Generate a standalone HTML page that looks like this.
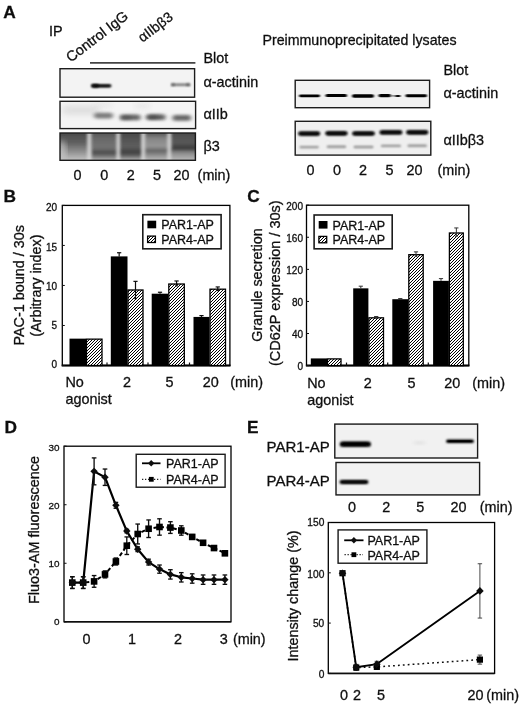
<!DOCTYPE html>
<html><head><meta charset="utf-8"><title>Figure</title>
<style>html,body{margin:0;padding:0;background:#fff;}svg{display:block;}text{font-family:'Liberation Sans', sans-serif;stroke:#111;stroke-width:0.3px;}</style>
</head><body>
<svg width="520" height="705" viewBox="0 0 520 705">
<defs>
<filter id="b1" x="-20%" y="-100%" width="140%" height="300%"><feGaussianBlur stdDeviation="1.2 0.9"/></filter>
<filter id="b0" x="-20%" y="-100%" width="140%" height="300%"><feGaussianBlur stdDeviation="1.0 0.75"/></filter>
<filter id="b2" x="-20%" y="-100%" width="140%" height="300%"><feGaussianBlur stdDeviation="2 1.4"/></filter>
<filter id="b3" x="-20%" y="-100%" width="140%" height="300%"><feGaussianBlur stdDeviation="3 2.5"/></filter>
<filter id="bs" x="-5%" y="-5%" width="110%" height="110%"><feGaussianBlur stdDeviation="0.3"/></filter>
<filter id="bt" x="-5%" y="-5%" width="110%" height="110%"><feGaussianBlur stdDeviation="0.55"/></filter>
</defs>
<rect width="520" height="705" fill="#fff"/>
<g filter="url(#bt)">
<text x="3.3" y="17.7" font-size="17.3" text-anchor="start" font-weight="bold" fill="#111">A</text>
<text x="49" y="35.6" font-size="14.4" text-anchor="start" font-weight="normal" fill="#111">IP</text>
<text x="70.8" y="62.8" font-size="14.4" text-anchor="start" font-weight="normal" fill="#111" transform="rotate(-37.5 70.8 62.8)">Control IgG</text>
<text x="142.5" y="42.8" font-size="14" text-anchor="start" font-weight="normal" fill="#111" transform="rotate(-37.5 142.5 42.8)">αIIbβ3</text>
<line x1="90" y1="62.9" x2="195.4" y2="62.9" stroke="#444" stroke-width="1.6"/>
<text x="203.5" y="62.7" font-size="14.4" text-anchor="start" font-weight="normal" fill="#111">Blot</text>
<clipPath id="ca1"><rect x="60" y="68.7" width="134.6" height="28.5"/></clipPath>
<rect x="60" y="68.7" width="134.6" height="28.5" fill="#f3f3f3" stroke="none" stroke-width="1"/>
<g clip-path="url(#ca1)">
<rect x="91" y="84.39999999999999" width="20.5" height="2.8" rx="1.4" fill="#000" opacity="1" filter="url(#b1)"/>
<rect x="91.5" y="84.0" width="7.5" height="3.6" rx="1.8" fill="#000" opacity="0.8" filter="url(#b1)"/>
<rect x="93" y="85.0" width="17" height="1.6" rx="0.8" fill="#000" opacity="1" filter="url(#b1)"/>
<rect x="171" y="83.5" width="19.5" height="2.4" rx="1.2" fill="#555" opacity="0.8" filter="url(#b1)"/>
<rect x="171" y="83.5" width="4" height="2.4" rx="1.2" fill="#444" opacity="0.6" filter="url(#b1)"/>
<rect x="186" y="83.5" width="4" height="2.4" rx="1.2" fill="#444" opacity="0.6" filter="url(#b1)"/>
</g>
<rect x="60" y="68.7" width="134.6" height="28.5" fill="none" stroke="#1a1a1a" stroke-width="1.4"/>
<clipPath id="ca2"><rect x="60" y="101.3" width="135.6" height="27.3"/></clipPath>
<rect x="60" y="101.3" width="135.6" height="27.3" fill="#f4f4f4" stroke="none" stroke-width="1"/>
<g clip-path="url(#ca2)">
<rect x="62" y="105.0" width="38" height="10" rx="5.0" fill="#ccc" opacity="0.5" filter="url(#b3)"/>
<rect x="94" y="112.8" width="19" height="5.6" rx="2.8" fill="#666" opacity="0.85" filter="url(#b2)"/>
<rect x="120" y="114.60000000000001" width="20.5" height="5.6" rx="2.8" fill="#555" opacity="0.9" filter="url(#b2)"/>
<rect x="121" y="115.89999999999999" width="10" height="3.4" rx="1.7" fill="#444" opacity="0.6" filter="url(#b2)"/>
<rect x="146.5" y="114.3" width="19.0" height="5.8" rx="2.9" fill="#505050" opacity="0.9" filter="url(#b2)"/>
<rect x="147" y="115.5" width="11" height="3.4" rx="1.7" fill="#3a3a3a" opacity="0.6" filter="url(#b2)"/>
<rect x="172.5" y="115.10000000000001" width="18.5" height="5.6" rx="2.8" fill="#555" opacity="0.9" filter="url(#b2)"/>
<rect x="95" y="103.0" width="17" height="4" rx="2.0" fill="#ddd" opacity="0.6" filter="url(#b3)"/>
<rect x="135" y="103.5" width="15" height="5" rx="2.5" fill="#ddd" opacity="0.6" filter="url(#b3)"/>
</g>
<rect x="60" y="101.3" width="135.6" height="27.3" fill="none" stroke="#1a1a1a" stroke-width="1.4"/>
<linearGradient id="g31" gradientUnits="userSpaceOnUse" x1="0" y1="133.5" x2="0" y2="160"><stop offset="0" stop-color="#4c4c4c"/><stop offset="0.35" stop-color="#606060"/><stop offset="0.65" stop-color="#8a8a8a"/><stop offset="1" stop-color="#c0c0c0"/></linearGradient>
<linearGradient id="g32" gradientUnits="userSpaceOnUse" x1="0" y1="133.5" x2="0" y2="160"><stop offset="0" stop-color="#585858"/><stop offset="0.2" stop-color="#6a6a6a"/><stop offset="0.55" stop-color="#727272"/><stop offset="0.72" stop-color="#484848"/><stop offset="0.84" stop-color="#6c6c6c"/><stop offset="1" stop-color="#b0b0b0"/></linearGradient>
<linearGradient id="g33" gradientUnits="userSpaceOnUse" x1="0" y1="133.5" x2="0" y2="160"><stop offset="0" stop-color="#4c4c4c"/><stop offset="0.5" stop-color="#5e5e5e"/><stop offset="0.72" stop-color="#3c3c3c"/><stop offset="0.84" stop-color="#606060"/><stop offset="1" stop-color="#b0b0b0"/></linearGradient>
<linearGradient id="g34" gradientUnits="userSpaceOnUse" x1="0" y1="133.5" x2="0" y2="160"><stop offset="0" stop-color="#5c5c5c"/><stop offset="0.2" stop-color="#888888"/><stop offset="0.5" stop-color="#969696"/><stop offset="0.64" stop-color="#606060"/><stop offset="0.8" stop-color="#8a8a8a"/><stop offset="1" stop-color="#b8b8b8"/></linearGradient>
<linearGradient id="g35" gradientUnits="userSpaceOnUse" x1="0" y1="133.5" x2="0" y2="160"><stop offset="0" stop-color="#4c4c4c"/><stop offset="0.35" stop-color="#5a5a5a"/><stop offset="0.56" stop-color="#363636"/><stop offset="0.72" stop-color="#888888"/><stop offset="1" stop-color="#b8b8b8"/></linearGradient>
<filter id="bh" x="-100%" y="-10%" width="300%" height="120%"><feGaussianBlur stdDeviation="1.5 0.6"/></filter>
<clipPath id="ca3"><rect x="60" y="133" width="135.4" height="27.3"/></clipPath>
<rect x="60" y="133" width="135.4" height="27.3" fill="#808080" stroke="none" stroke-width="1"/>
<g clip-path="url(#ca3)">
<g filter="url(#b2)">
<rect x="56" y="130" width="34" height="33" fill="url(#g31)" stroke="none" stroke-width="1"/>
<rect x="90" y="130" width="28" height="33" fill="url(#g32)" stroke="none" stroke-width="1"/>
<rect x="118" y="130" width="26" height="33" fill="url(#g33)" stroke="none" stroke-width="1"/>
<rect x="144" y="130" width="26" height="33" fill="url(#g34)" stroke="none" stroke-width="1"/>
<rect x="170" y="130" width="30" height="33" fill="url(#g35)" stroke="none" stroke-width="1"/>
</g>
<rect x="87.2" y="129" width="4.2" height="35" fill="#dcdcdc" opacity="0.9" filter="url(#bh)"/>
<rect x="116.30000000000001" y="129" width="3.8" height="35" fill="#dcdcdc" opacity="0.9" filter="url(#bh)"/>
<rect x="141.20000000000002" y="129" width="4.2" height="35" fill="#dcdcdc" opacity="0.9" filter="url(#bh)"/>
<rect x="167.29999999999998" y="129" width="3.8" height="35" fill="#dcdcdc" opacity="0.9" filter="url(#bh)"/>
<rect x="57" y="140.0" width="9" height="20" rx="10.0" fill="#ddd" opacity="0.6" filter="url(#b3)"/>
</g>
<rect x="60" y="133" width="135.4" height="27.3" fill="none" stroke="#1a1a1a" stroke-width="1.4"/>
<text x="203.5" y="87" font-size="14.4" text-anchor="start" font-weight="normal" fill="#111">α-actinin</text>
<text x="203.5" y="119" font-size="14.4" text-anchor="start" font-weight="normal" fill="#111">αIIb</text>
<text x="203.5" y="151.2" font-size="14.4" text-anchor="start" font-weight="normal" fill="#111">β3</text>
<text x="77.5" y="180.2" font-size="14.4" text-anchor="middle" font-weight="normal" fill="#111">0</text>
<text x="104.3" y="180.2" font-size="14.4" text-anchor="middle" font-weight="normal" fill="#111">0</text>
<text x="130.8" y="180.2" font-size="14.4" text-anchor="middle" font-weight="normal" fill="#111">2</text>
<text x="157" y="180.2" font-size="14.4" text-anchor="middle" font-weight="normal" fill="#111">5</text>
<text x="181.6" y="180.2" font-size="14.4" text-anchor="middle" font-weight="normal" fill="#111">20</text>
<text x="197.6" y="180.2" font-size="14.4" text-anchor="start" font-weight="normal" fill="#111">(min)</text>
<text x="262.5" y="45" font-size="14.2" text-anchor="start" font-weight="normal" fill="#111">Preimmunoprecipitated lysates</text>
<text x="443.5" y="74.6" font-size="14.4" text-anchor="start" font-weight="normal" fill="#111">Blot</text>
<clipPath id="cr1"><rect x="295.2" y="80.3" width="134.4" height="27.4"/></clipPath>
<rect x="295.2" y="80.3" width="134.4" height="27.4" fill="#f1f1f1" stroke="none" stroke-width="1"/>
<g clip-path="url(#cr1)">
<rect x="299" y="94.45" width="21" height="2.7" rx="1.35" fill="#000" opacity="1" filter="url(#b0)"/>
<rect x="325.5" y="93.95" width="21.5" height="3.1" rx="1.55" fill="#000" opacity="1" filter="url(#b0)"/>
<rect x="352" y="94.15" width="22" height="3.5" rx="1.75" fill="#000" opacity="1" filter="url(#b0)"/>
<rect x="378.5" y="94.05" width="12.5" height="3.1" rx="1.55" fill="#000" opacity="1" filter="url(#b0)"/>
<rect x="395" y="95.0" width="5.5" height="2.0" rx="1.0" fill="#000" opacity="1" filter="url(#b0)"/>
<rect x="405.5" y="94.25" width="21.5" height="2.9" rx="1.45" fill="#000" opacity="1" filter="url(#b0)"/>
<rect x="390" y="95.30000000000001" width="6" height="1.2" rx="0.6" fill="#555" opacity="0.8" filter="url(#b0)"/>
</g>
<rect x="295.2" y="80.3" width="134.4" height="27.4" fill="none" stroke="#1a1a1a" stroke-width="1.4"/>
<clipPath id="cr2"><rect x="295.2" y="121.3" width="135.6" height="33.8"/></clipPath>
<rect x="295.2" y="121.3" width="135.6" height="33.8" fill="#efefef" stroke="none" stroke-width="1"/>
<g clip-path="url(#cr2)">
<rect x="298" y="131.50000000000003" width="22.30000000000001" height="4.2" rx="2.1" fill="#0a0a0a" opacity="1" filter="url(#b1)"/>
<rect x="300" y="132.40000000000003" width="18.30000000000001" height="2.4" rx="1.2" fill="#000" opacity="1" filter="url(#b1)"/>
<rect x="299.5" y="145.90000000000003" width="19.30000000000001" height="2.4" rx="1.2" fill="#8a8a8a" opacity="0.9" filter="url(#b1)"/>
<rect x="325.2" y="131.20000000000002" width="22.5" height="4.2" rx="2.1" fill="#0a0a0a" opacity="1" filter="url(#b1)"/>
<rect x="327.2" y="132.10000000000002" width="18.5" height="2.4" rx="1.2" fill="#000" opacity="1" filter="url(#b1)"/>
<rect x="326.7" y="145.60000000000002" width="19.5" height="2.4" rx="1.2" fill="#8a8a8a" opacity="0.9" filter="url(#b1)"/>
<rect x="352" y="131.4" width="23" height="4.2" rx="2.1" fill="#0a0a0a" opacity="1" filter="url(#b1)"/>
<rect x="354" y="132.3" width="19" height="2.4" rx="1.2" fill="#000" opacity="1" filter="url(#b1)"/>
<rect x="353.5" y="145.8" width="20.0" height="2.4" rx="1.2" fill="#8a8a8a" opacity="0.9" filter="url(#b1)"/>
<rect x="379.4" y="130.3" width="23.100000000000023" height="4.2" rx="2.1" fill="#0a0a0a" opacity="1" filter="url(#b1)"/>
<rect x="381.4" y="131.20000000000002" width="19.100000000000023" height="2.4" rx="1.2" fill="#000" opacity="1" filter="url(#b1)"/>
<rect x="380.9" y="144.70000000000002" width="20.100000000000023" height="2.4" rx="1.2" fill="#8a8a8a" opacity="0.9" filter="url(#b1)"/>
<rect x="406" y="130.20000000000002" width="22.399999999999977" height="4.2" rx="2.1" fill="#0a0a0a" opacity="1" filter="url(#b1)"/>
<rect x="408" y="131.10000000000002" width="18.399999999999977" height="2.4" rx="1.2" fill="#000" opacity="1" filter="url(#b1)"/>
<rect x="407.5" y="144.60000000000002" width="19.399999999999977" height="2.4" rx="1.2" fill="#8a8a8a" opacity="0.9" filter="url(#b1)"/>
</g>
<rect x="295.2" y="121.3" width="135.6" height="33.8" fill="none" stroke="#1a1a1a" stroke-width="1.4"/>
<text x="443.5" y="97.9" font-size="14.4" text-anchor="start" font-weight="normal" fill="#111">α-actinin</text>
<text x="443.5" y="144.7" font-size="14.4" text-anchor="start" font-weight="normal" fill="#111">αIIbβ3</text>
<text x="310.5" y="175" font-size="14.4" text-anchor="middle" font-weight="normal" fill="#111">0</text>
<text x="337" y="175" font-size="14.4" text-anchor="middle" font-weight="normal" fill="#111">0</text>
<text x="363" y="175" font-size="14.4" text-anchor="middle" font-weight="normal" fill="#111">2</text>
<text x="389.5" y="175" font-size="14.4" text-anchor="middle" font-weight="normal" fill="#111">5</text>
<text x="414.5" y="175" font-size="14.4" text-anchor="middle" font-weight="normal" fill="#111">20</text>
<text x="437.5" y="175" font-size="14.4" text-anchor="start" font-weight="normal" fill="#111">(min)</text>
<text x="3.5" y="202.4" font-size="17.3" text-anchor="start" font-weight="bold" fill="#111">B</text>
<rect x="69.5" y="338.64625" width="16.5" height="26.85374999999999" fill="#000" stroke="none" stroke-width="1"/>
<rect x="110.8" y="256.39155" width="16.700000000000003" height="109.10845" fill="#000" stroke="none" stroke-width="1"/>
<line x1="119.15" y1="256.39155" x2="119.15" y2="252.73225" stroke="#111" stroke-width="1.2"/>
<line x1="117.05000000000001" y1="252.73225" x2="121.25" y2="252.73225" stroke="#111" stroke-width="1.2"/>
<rect x="151.7" y="293.7005" width="16.600000000000023" height="71.79950000000002" fill="#000" stroke="none" stroke-width="1"/>
<line x1="160.0" y1="293.7005" x2="160.0" y2="292.2686" stroke="#111" stroke-width="1.2"/>
<line x1="157.9" y1="292.2686" x2="162.1" y2="292.2686" stroke="#111" stroke-width="1.2"/>
<rect x="193.5" y="316.9291" width="16.0" height="48.570899999999995" fill="#000" stroke="none" stroke-width="1"/>
<line x1="201.5" y1="316.9291" x2="201.5" y2="315.57675" stroke="#111" stroke-width="1.2"/>
<line x1="199.4" y1="315.57675" x2="203.6" y2="315.57675" stroke="#111" stroke-width="1.2"/>
<rect x="62.3" y="205.4" width="167.60000000000002" height="160.1" fill="none" stroke="#000" stroke-width="1.3"/>
<line x1="61.699999999999996" y1="365.5" x2="230.5" y2="365.5" stroke="#000" stroke-width="2.0"/>
<line x1="62.3" y1="365.5" x2="64.8" y2="365.5" stroke="#111" stroke-width="1"/>
<text x="57.099999999999994" y="368.3" font-size="10" text-anchor="end" font-weight="normal" fill="#111">0</text>
<line x1="62.3" y1="325.475" x2="64.8" y2="325.475" stroke="#111" stroke-width="1"/>
<text x="57.099999999999994" y="329.05" font-size="10" text-anchor="end" font-weight="normal" fill="#111">5</text>
<line x1="62.3" y1="285.45" x2="64.8" y2="285.45" stroke="#111" stroke-width="1"/>
<text x="57.099999999999994" y="289.8" font-size="10" text-anchor="end" font-weight="normal" fill="#111">10</text>
<line x1="62.3" y1="245.425" x2="64.8" y2="245.425" stroke="#111" stroke-width="1"/>
<text x="57.099999999999994" y="250.54999999999998" font-size="10" text-anchor="end" font-weight="normal" fill="#111">15</text>
<line x1="62.3" y1="205.4" x2="64.8" y2="205.4" stroke="#111" stroke-width="1"/>
<text x="57.099999999999994" y="211.29999999999998" font-size="10" text-anchor="end" font-weight="normal" fill="#111">20</text>
<line x1="107" y1="365.5" x2="107" y2="362.5" stroke="#111" stroke-width="1.2"/>
<line x1="148" y1="365.5" x2="148" y2="362.5" stroke="#111" stroke-width="1.2"/>
<line x1="189.5" y1="365.5" x2="189.5" y2="362.5" stroke="#111" stroke-width="1.2"/>
<rect x="142.8" y="214.7" width="78.3" height="34.1" fill="#fff" stroke="#1a1a1a" stroke-width="1.6"/>
<rect x="147.4" y="220.7" width="8.8" height="7.6" fill="#000" stroke="none" stroke-width="1"/>
<text x="161.3" y="229.2" font-size="12.5" text-anchor="start" font-weight="normal" fill="#111">PAR1-AP</text>
<text x="161.3" y="244.0" font-size="12.5" text-anchor="start" font-weight="normal" fill="#111">PAR4-AP</text>
<text x="23.8" y="285.3" font-size="14.4" text-anchor="middle" font-weight="normal" fill="#111" transform="rotate(-90 23.8 285.3)">PAC-1 bound / 30s</text>
<text x="40.8" y="285.6" font-size="14.4" text-anchor="middle" font-weight="normal" fill="#111" transform="rotate(-90 40.8 285.6)">(Arbitrary index)</text>
<text x="65.4" y="387" font-size="14.4" text-anchor="start" font-weight="normal" fill="#111">No</text>
<text x="65.4" y="404" font-size="14.4" text-anchor="start" font-weight="normal" fill="#111">agonist</text>
<text x="127" y="387" font-size="14.4" text-anchor="middle" font-weight="normal" fill="#111">2</text>
<text x="169.5" y="387" font-size="14.4" text-anchor="middle" font-weight="normal" fill="#111">5</text>
<text x="210.8" y="387" font-size="14.4" text-anchor="middle" font-weight="normal" fill="#111">20</text>
<text x="230.2" y="387" font-size="14.4" text-anchor="start" font-weight="normal" fill="#111">(min)</text>
<text x="247.2" y="202.2" font-size="17.3" text-anchor="start" font-weight="bold" fill="#111">C</text>
<rect x="310.8" y="358.416" width="16.19999999999999" height="7.184000000000026" fill="#000" stroke="none" stroke-width="1"/>
<rect x="353.2" y="288.3516" width="15.199999999999989" height="77.2484" fill="#000" stroke="none" stroke-width="1"/>
<line x1="360.79999999999995" y1="288.3516" x2="360.79999999999995" y2="286.197" stroke="#333" stroke-width="1.0"/>
<line x1="358.69999999999993" y1="286.197" x2="362.9" y2="286.197" stroke="#333" stroke-width="1.0"/>
<rect x="392.3" y="299.20439999999996" width="16.0" height="66.39560000000006" fill="#000" stroke="none" stroke-width="1"/>
<line x1="400.3" y1="299.20439999999996" x2="400.3" y2="298.56600000000003" stroke="#333" stroke-width="1.0"/>
<line x1="398.2" y1="298.56600000000003" x2="402.40000000000003" y2="298.56600000000003" stroke="#333" stroke-width="1.0"/>
<rect x="433.1" y="280.8504" width="15.799999999999955" height="84.74960000000004" fill="#000" stroke="none" stroke-width="1"/>
<line x1="441.0" y1="280.8504" x2="441.0" y2="278.616" stroke="#333" stroke-width="1.0"/>
<line x1="438.9" y1="278.616" x2="443.1" y2="278.616" stroke="#333" stroke-width="1.0"/>
<rect x="306.5" y="205.2" width="162.3" height="160.40000000000003" fill="none" stroke="#000" stroke-width="1.3"/>
<line x1="305.9" y1="365.6" x2="469.40000000000003" y2="365.6" stroke="#000" stroke-width="2.0"/>
<line x1="306.5" y1="365.6" x2="309.0" y2="365.6" stroke="#111" stroke-width="1"/>
<text x="303.0" y="369.90000000000003" font-size="10" text-anchor="end" font-weight="normal" fill="#111">0</text>
<line x1="306.5" y1="333.52" x2="309.0" y2="333.52" stroke="#111" stroke-width="1"/>
<text x="303.0" y="337.90000000000003" font-size="10" text-anchor="end" font-weight="normal" fill="#111">40</text>
<line x1="306.5" y1="301.44" x2="309.0" y2="301.44" stroke="#111" stroke-width="1"/>
<text x="303.0" y="305.90000000000003" font-size="10" text-anchor="end" font-weight="normal" fill="#111">80</text>
<line x1="306.5" y1="269.36" x2="309.0" y2="269.36" stroke="#111" stroke-width="1"/>
<text x="303.0" y="273.90000000000003" font-size="10" text-anchor="end" font-weight="normal" fill="#111">120</text>
<line x1="306.5" y1="237.27999999999997" x2="309.0" y2="237.27999999999997" stroke="#111" stroke-width="1"/>
<text x="303.0" y="241.9" font-size="10" text-anchor="end" font-weight="normal" fill="#111">160</text>
<line x1="306.5" y1="205.2" x2="309.0" y2="205.2" stroke="#111" stroke-width="1"/>
<text x="303.0" y="209.9" font-size="10" text-anchor="end" font-weight="normal" fill="#111">200</text>
<line x1="346.5" y1="365.6" x2="346.5" y2="362.6" stroke="#111" stroke-width="1.2"/>
<line x1="387.7" y1="365.6" x2="387.7" y2="362.6" stroke="#111" stroke-width="1.2"/>
<line x1="428.3" y1="365.6" x2="428.3" y2="362.6" stroke="#111" stroke-width="1.2"/>
<rect x="314.1" y="215.0" width="78.1" height="33.8" fill="#fff" stroke="#1a1a1a" stroke-width="1.6"/>
<rect x="318.70000000000005" y="221.0" width="8.8" height="7.6" fill="#000" stroke="none" stroke-width="1"/>
<text x="332.6" y="229.5" font-size="12.5" text-anchor="start" font-weight="normal" fill="#111">PAR1-AP</text>
<text x="332.6" y="244.3" font-size="12.5" text-anchor="start" font-weight="normal" fill="#111">PAR4-AP</text>
<text x="262.2" y="285" font-size="14.4" text-anchor="middle" font-weight="normal" fill="#111" transform="rotate(-90 262.2 285)">Granule secretion</text>
<text x="279.7" y="283.2" font-size="14.5" text-anchor="middle" font-weight="normal" fill="#111" transform="rotate(-90 279.7 283.2)">(CD62P expression / 30s)</text>
<text x="307.2" y="388" font-size="14.4" text-anchor="start" font-weight="normal" fill="#111">No</text>
<text x="307.2" y="405" font-size="14.4" text-anchor="start" font-weight="normal" fill="#111">agonist</text>
<text x="367.7" y="388" font-size="14.4" text-anchor="middle" font-weight="normal" fill="#111">2</text>
<text x="411.4" y="388" font-size="14.4" text-anchor="middle" font-weight="normal" fill="#111">5</text>
<text x="452.3" y="388" font-size="14.4" text-anchor="middle" font-weight="normal" fill="#111">20</text>
<text x="472.3" y="388" font-size="14.4" text-anchor="start" font-weight="normal" fill="#111">(min)</text>
<text x="4.4" y="433.0" font-size="17.3" text-anchor="start" font-weight="bold" fill="#111">D</text>
<rect x="64" y="446.2" width="167" height="175.59999999999997" fill="none" stroke="#000" stroke-width="1.3"/>
<line x1="64" y1="621.8" x2="231" y2="621.8" stroke="#111" stroke-width="1.5"/>
<line x1="64" y1="621.8" x2="66.5" y2="621.8" stroke="#111" stroke-width="1"/>
<text x="59.4" y="625.4" font-size="9.9" text-anchor="end" font-weight="normal" fill="#111">0</text>
<line x1="64" y1="563.2666666666667" x2="66.5" y2="563.2666666666667" stroke="#111" stroke-width="1"/>
<text x="59.4" y="567.1999999999999" font-size="9.9" text-anchor="end" font-weight="normal" fill="#111">10</text>
<line x1="64" y1="504.7333333333333" x2="66.5" y2="504.7333333333333" stroke="#111" stroke-width="1"/>
<text x="59.4" y="509.0" font-size="9.9" text-anchor="end" font-weight="normal" fill="#111">20</text>
<line x1="64" y1="446.2" x2="66.5" y2="446.2" stroke="#111" stroke-width="1"/>
<text x="59.4" y="450.79999999999995" font-size="9.9" text-anchor="end" font-weight="normal" fill="#111">30</text>
<polyline points="72.3,582.6 83.2,582.6 94.1,581.4 105.0,574.4 115.9,561.5 126.8,545.7 137.7,534.0 148.6,528.7 159.5,527.0 170.4,527.6 181.3,530.5 192.2,536.9 203.1,542.8 214.0,548.0 224.9,553.3" fill="none" stroke="#000" stroke-width="2" stroke-dasharray="4 2.5"/>
<line x1="72.3" y1="576.7293333333333" x2="72.3" y2="588.4359999999999" stroke="#111" stroke-width="1.35"/>
<line x1="70.0" y1="576.7293333333333" x2="74.6" y2="576.7293333333333" stroke="#111" stroke-width="1.35"/>
<line x1="70.0" y1="588.4359999999999" x2="74.6" y2="588.4359999999999" stroke="#111" stroke-width="1.35"/>
<rect x="69.0" y="579.2826666666667" width="6.6" height="6.6" fill="#000" stroke="none" stroke-width="1"/>
<line x1="83.2" y1="576.7293333333333" x2="83.2" y2="588.4359999999999" stroke="#111" stroke-width="1.35"/>
<line x1="80.9" y1="576.7293333333333" x2="85.5" y2="576.7293333333333" stroke="#111" stroke-width="1.35"/>
<line x1="80.9" y1="588.4359999999999" x2="85.5" y2="588.4359999999999" stroke="#111" stroke-width="1.35"/>
<rect x="79.9" y="579.2826666666667" width="6.6" height="6.6" fill="#000" stroke="none" stroke-width="1"/>
<line x1="94.1" y1="575.5586666666666" x2="94.1" y2="587.2653333333333" stroke="#111" stroke-width="1.35"/>
<line x1="91.8" y1="575.5586666666666" x2="96.39999999999999" y2="575.5586666666666" stroke="#111" stroke-width="1.35"/>
<line x1="91.8" y1="587.2653333333333" x2="96.39999999999999" y2="587.2653333333333" stroke="#111" stroke-width="1.35"/>
<rect x="90.8" y="578.112" width="6.6" height="6.6" fill="#000" stroke="none" stroke-width="1"/>
<line x1="105.0" y1="570.876" x2="105.0" y2="577.9" stroke="#111" stroke-width="1.35"/>
<line x1="102.7" y1="570.876" x2="107.3" y2="570.876" stroke="#111" stroke-width="1.35"/>
<line x1="102.7" y1="577.9" x2="107.3" y2="577.9" stroke="#111" stroke-width="1.35"/>
<rect x="101.7" y="571.088" width="6.6" height="6.6" fill="#000" stroke="none" stroke-width="1"/>
<line x1="115.9" y1="557.9986666666666" x2="115.9" y2="565.0226666666666" stroke="#111" stroke-width="1.35"/>
<line x1="113.60000000000001" y1="557.9986666666666" x2="118.2" y2="557.9986666666666" stroke="#111" stroke-width="1.35"/>
<line x1="113.60000000000001" y1="565.0226666666666" x2="118.2" y2="565.0226666666666" stroke="#111" stroke-width="1.35"/>
<rect x="112.60000000000001" y="558.2106666666666" width="6.6" height="6.6" fill="#000" stroke="none" stroke-width="1"/>
<line x1="126.8" y1="536.9266666666666" x2="126.8" y2="554.4866666666667" stroke="#111" stroke-width="1.35"/>
<line x1="124.5" y1="536.9266666666666" x2="129.1" y2="536.9266666666666" stroke="#111" stroke-width="1.35"/>
<line x1="124.5" y1="554.4866666666667" x2="129.1" y2="554.4866666666667" stroke="#111" stroke-width="1.35"/>
<rect x="123.5" y="542.4066666666666" width="6.6" height="6.6" fill="#000" stroke="none" stroke-width="1"/>
<line x1="137.7" y1="524.0493333333333" x2="137.7" y2="543.9506666666666" stroke="#111" stroke-width="1.35"/>
<line x1="135.39999999999998" y1="524.0493333333333" x2="140.0" y2="524.0493333333333" stroke="#111" stroke-width="1.35"/>
<line x1="135.39999999999998" y1="543.9506666666666" x2="140.0" y2="543.9506666666666" stroke="#111" stroke-width="1.35"/>
<rect x="134.39999999999998" y="530.7" width="6.6" height="6.6" fill="#000" stroke="none" stroke-width="1"/>
<line x1="148.6" y1="519.952" x2="148.6" y2="537.512" stroke="#111" stroke-width="1.35"/>
<line x1="146.29999999999998" y1="519.952" x2="150.9" y2="519.952" stroke="#111" stroke-width="1.35"/>
<line x1="146.29999999999998" y1="537.512" x2="150.9" y2="537.512" stroke="#111" stroke-width="1.35"/>
<rect x="145.29999999999998" y="525.432" width="6.6" height="6.6" fill="#000" stroke="none" stroke-width="1"/>
<line x1="159.5" y1="518.7813333333334" x2="159.5" y2="535.1706666666666" stroke="#111" stroke-width="1.35"/>
<line x1="157.2" y1="518.7813333333334" x2="161.8" y2="518.7813333333334" stroke="#111" stroke-width="1.35"/>
<line x1="157.2" y1="535.1706666666666" x2="161.8" y2="535.1706666666666" stroke="#111" stroke-width="1.35"/>
<rect x="156.2" y="523.676" width="6.6" height="6.6" fill="#000" stroke="none" stroke-width="1"/>
<line x1="170.4" y1="521.708" x2="170.4" y2="533.4146666666666" stroke="#111" stroke-width="1.35"/>
<line x1="168.1" y1="521.708" x2="172.70000000000002" y2="521.708" stroke="#111" stroke-width="1.35"/>
<line x1="168.1" y1="533.4146666666666" x2="172.70000000000002" y2="533.4146666666666" stroke="#111" stroke-width="1.35"/>
<rect x="167.1" y="524.2613333333334" width="6.6" height="6.6" fill="#000" stroke="none" stroke-width="1"/>
<line x1="181.3" y1="525.8053333333334" x2="181.3" y2="535.1706666666666" stroke="#111" stroke-width="1.35"/>
<line x1="179.0" y1="525.8053333333334" x2="183.60000000000002" y2="525.8053333333334" stroke="#111" stroke-width="1.35"/>
<line x1="179.0" y1="535.1706666666666" x2="183.60000000000002" y2="535.1706666666666" stroke="#111" stroke-width="1.35"/>
<rect x="178.0" y="527.188" width="6.6" height="6.6" fill="#000" stroke="none" stroke-width="1"/>
<line x1="192.2" y1="534.5853333333333" x2="192.2" y2="539.268" stroke="#111" stroke-width="1.35"/>
<line x1="189.89999999999998" y1="534.5853333333333" x2="194.5" y2="534.5853333333333" stroke="#111" stroke-width="1.35"/>
<line x1="189.89999999999998" y1="539.268" x2="194.5" y2="539.268" stroke="#111" stroke-width="1.35"/>
<rect x="188.89999999999998" y="533.6266666666667" width="6.6" height="6.6" fill="#000" stroke="none" stroke-width="1"/>
<line x1="203.10000000000002" y1="541.024" x2="203.10000000000002" y2="544.536" stroke="#111" stroke-width="1.35"/>
<line x1="200.8" y1="541.024" x2="205.40000000000003" y2="541.024" stroke="#111" stroke-width="1.35"/>
<line x1="200.8" y1="544.536" x2="205.40000000000003" y2="544.536" stroke="#111" stroke-width="1.35"/>
<rect x="199.8" y="539.48" width="6.6" height="6.6" fill="#000" stroke="none" stroke-width="1"/>
<line x1="214.0" y1="546.2919999999999" x2="214.0" y2="549.804" stroke="#111" stroke-width="1.35"/>
<line x1="211.7" y1="546.2919999999999" x2="216.3" y2="546.2919999999999" stroke="#111" stroke-width="1.35"/>
<line x1="211.7" y1="549.804" x2="216.3" y2="549.804" stroke="#111" stroke-width="1.35"/>
<rect x="210.7" y="544.748" width="6.6" height="6.6" fill="#000" stroke="none" stroke-width="1"/>
<line x1="224.89999999999998" y1="551.56" x2="224.89999999999998" y2="555.072" stroke="#111" stroke-width="1.35"/>
<line x1="222.59999999999997" y1="551.56" x2="227.2" y2="551.56" stroke="#111" stroke-width="1.35"/>
<line x1="222.59999999999997" y1="555.072" x2="227.2" y2="555.072" stroke="#111" stroke-width="1.35"/>
<rect x="221.59999999999997" y="550.0160000000001" width="6.6" height="6.6" fill="#000" stroke="none" stroke-width="1"/>
<polyline points="72.3,582.6 83.2,582.6 94.1,471.4 105.0,477.2 115.9,505.3 126.8,531.1 137.7,549.2 148.6,562.1 159.5,569.1 170.4,574.4 181.3,577.3 192.2,578.5 203.1,579.7 214.0,579.7 224.9,579.7" fill="none" stroke="#000" stroke-width="2.2" stroke-linejoin="round"/>
<line x1="72.3" y1="576.7293333333333" x2="72.3" y2="588.4359999999999" stroke="#111" stroke-width="1.35"/>
<line x1="70.0" y1="576.7293333333333" x2="74.6" y2="576.7293333333333" stroke="#111" stroke-width="1.35"/>
<line x1="70.0" y1="588.4359999999999" x2="74.6" y2="588.4359999999999" stroke="#111" stroke-width="1.35"/>
<polygon points="68.6,582.5826666666667 72.3,578.8826666666666 76.0,582.5826666666667 72.3,586.2826666666667" fill="#111"/>
<line x1="83.2" y1="576.7293333333333" x2="83.2" y2="588.4359999999999" stroke="#111" stroke-width="1.35"/>
<line x1="80.9" y1="576.7293333333333" x2="85.5" y2="576.7293333333333" stroke="#111" stroke-width="1.35"/>
<line x1="80.9" y1="588.4359999999999" x2="85.5" y2="588.4359999999999" stroke="#111" stroke-width="1.35"/>
<polygon points="79.5,582.5826666666667 83.2,578.8826666666666 86.9,582.5826666666667 83.2,586.2826666666667" fill="#111"/>
<line x1="94.1" y1="457.90666666666664" x2="94.1" y2="484.832" stroke="#111" stroke-width="1.35"/>
<line x1="91.8" y1="457.90666666666664" x2="96.39999999999999" y2="457.90666666666664" stroke="#111" stroke-width="1.35"/>
<line x1="91.8" y1="484.832" x2="96.39999999999999" y2="484.832" stroke="#111" stroke-width="1.35"/>
<polygon points="90.39999999999999,471.3693333333333 94.1,467.6693333333333 97.8,471.3693333333333 94.1,475.0693333333333" fill="#111"/>
<line x1="105.0" y1="469.028" x2="105.0" y2="485.4173333333333" stroke="#111" stroke-width="1.35"/>
<line x1="102.7" y1="469.028" x2="107.3" y2="469.028" stroke="#111" stroke-width="1.35"/>
<line x1="102.7" y1="485.4173333333333" x2="107.3" y2="485.4173333333333" stroke="#111" stroke-width="1.35"/>
<polygon points="101.3,477.22266666666667 105.0,473.5226666666667 108.7,477.22266666666667 105.0,480.92266666666666" fill="#111"/>
<line x1="115.9" y1="502.392" x2="115.9" y2="508.2453333333333" stroke="#111" stroke-width="1.35"/>
<line x1="113.60000000000001" y1="502.392" x2="118.2" y2="502.392" stroke="#111" stroke-width="1.35"/>
<line x1="113.60000000000001" y1="508.2453333333333" x2="118.2" y2="508.2453333333333" stroke="#111" stroke-width="1.35"/>
<polygon points="112.2,505.3186666666667 115.9,501.6186666666667 119.60000000000001,505.3186666666667 115.9,509.01866666666666" fill="#111"/>
<line x1="126.8" y1="529.3173333333333" x2="126.8" y2="532.8293333333334" stroke="#111" stroke-width="1.35"/>
<line x1="124.5" y1="529.3173333333333" x2="129.1" y2="529.3173333333333" stroke="#111" stroke-width="1.35"/>
<line x1="124.5" y1="532.8293333333334" x2="129.1" y2="532.8293333333334" stroke="#111" stroke-width="1.35"/>
<polygon points="123.1,531.0733333333333 126.8,527.3733333333332 130.5,531.0733333333333 126.8,534.7733333333333" fill="#111"/>
<line x1="137.7" y1="546.8773333333334" x2="137.7" y2="551.56" stroke="#111" stroke-width="1.35"/>
<line x1="135.39999999999998" y1="546.8773333333334" x2="140.0" y2="546.8773333333334" stroke="#111" stroke-width="1.35"/>
<line x1="135.39999999999998" y1="551.56" x2="140.0" y2="551.56" stroke="#111" stroke-width="1.35"/>
<polygon points="134.0,549.2186666666666 137.7,545.5186666666666 141.39999999999998,549.2186666666666 137.7,552.9186666666667" fill="#111"/>
<line x1="148.6" y1="559.1693333333333" x2="148.6" y2="565.0226666666666" stroke="#111" stroke-width="1.35"/>
<line x1="146.29999999999998" y1="559.1693333333333" x2="150.9" y2="559.1693333333333" stroke="#111" stroke-width="1.35"/>
<line x1="146.29999999999998" y1="565.0226666666666" x2="150.9" y2="565.0226666666666" stroke="#111" stroke-width="1.35"/>
<polygon points="144.9,562.096 148.6,558.396 152.29999999999998,562.096 148.6,565.796" fill="#111"/>
<line x1="159.5" y1="565.0226666666666" x2="159.5" y2="573.2173333333333" stroke="#111" stroke-width="1.35"/>
<line x1="157.2" y1="565.0226666666666" x2="161.8" y2="565.0226666666666" stroke="#111" stroke-width="1.35"/>
<line x1="157.2" y1="573.2173333333333" x2="161.8" y2="573.2173333333333" stroke="#111" stroke-width="1.35"/>
<polygon points="155.8,569.12 159.5,565.42 163.2,569.12 159.5,572.82" fill="#111"/>
<line x1="170.4" y1="569.7053333333333" x2="170.4" y2="579.0706666666666" stroke="#111" stroke-width="1.35"/>
<line x1="168.1" y1="569.7053333333333" x2="172.70000000000002" y2="569.7053333333333" stroke="#111" stroke-width="1.35"/>
<line x1="168.1" y1="579.0706666666666" x2="172.70000000000002" y2="579.0706666666666" stroke="#111" stroke-width="1.35"/>
<polygon points="166.70000000000002,574.3879999999999 170.4,570.6879999999999 174.1,574.3879999999999 170.4,578.088" fill="#111"/>
<line x1="181.3" y1="572.632" x2="181.3" y2="581.9973333333332" stroke="#111" stroke-width="1.35"/>
<line x1="179.0" y1="572.632" x2="183.60000000000002" y2="572.632" stroke="#111" stroke-width="1.35"/>
<line x1="179.0" y1="581.9973333333332" x2="183.60000000000002" y2="581.9973333333332" stroke="#111" stroke-width="1.35"/>
<polygon points="177.60000000000002,577.3146666666667 181.3,573.6146666666666 185.0,577.3146666666667 181.3,581.0146666666667" fill="#111"/>
<line x1="192.2" y1="573.8026666666666" x2="192.2" y2="583.168" stroke="#111" stroke-width="1.35"/>
<line x1="189.89999999999998" y1="573.8026666666666" x2="194.5" y2="573.8026666666666" stroke="#111" stroke-width="1.35"/>
<line x1="189.89999999999998" y1="583.168" x2="194.5" y2="583.168" stroke="#111" stroke-width="1.35"/>
<polygon points="188.5,578.4853333333333 192.2,574.7853333333333 195.89999999999998,578.4853333333333 192.2,582.1853333333333" fill="#111"/>
<line x1="203.10000000000002" y1="574.9733333333332" x2="203.10000000000002" y2="584.3386666666667" stroke="#111" stroke-width="1.35"/>
<line x1="200.8" y1="574.9733333333332" x2="205.40000000000003" y2="574.9733333333332" stroke="#111" stroke-width="1.35"/>
<line x1="200.8" y1="584.3386666666667" x2="205.40000000000003" y2="584.3386666666667" stroke="#111" stroke-width="1.35"/>
<polygon points="199.40000000000003,579.656 203.10000000000002,575.9559999999999 206.8,579.656 203.10000000000002,583.356" fill="#111"/>
<line x1="214.0" y1="574.9733333333332" x2="214.0" y2="584.3386666666667" stroke="#111" stroke-width="1.35"/>
<line x1="211.7" y1="574.9733333333332" x2="216.3" y2="574.9733333333332" stroke="#111" stroke-width="1.35"/>
<line x1="211.7" y1="584.3386666666667" x2="216.3" y2="584.3386666666667" stroke="#111" stroke-width="1.35"/>
<polygon points="210.3,579.656 214.0,575.9559999999999 217.7,579.656 214.0,583.356" fill="#111"/>
<line x1="224.89999999999998" y1="574.9733333333332" x2="224.89999999999998" y2="584.3386666666667" stroke="#111" stroke-width="1.35"/>
<line x1="222.59999999999997" y1="574.9733333333332" x2="227.2" y2="574.9733333333332" stroke="#111" stroke-width="1.35"/>
<line x1="222.59999999999997" y1="584.3386666666667" x2="227.2" y2="584.3386666666667" stroke="#111" stroke-width="1.35"/>
<polygon points="221.2,579.656 224.89999999999998,575.9559999999999 228.59999999999997,579.656 224.89999999999998,583.356" fill="#111"/>
<rect x="136.2" y="454.3" width="88.9" height="32.9" fill="#fff" stroke="#1a1a1a" stroke-width="1.4"/>
<line x1="142" y1="463.3" x2="160.5" y2="463.3" stroke="#000" stroke-width="1.8"/>
<polygon points="148.0,463.3 151.2,460.1 154.39999999999998,463.3 151.2,466.5" fill="#111"/>
<text x="166" y="467.8" font-size="12.5" text-anchor="start" font-weight="normal" fill="#111">PAR1-AP</text>
<line x1="142" y1="479.3" x2="160.5" y2="479.3" stroke="#222" stroke-width="1.3" stroke-dasharray="1.3 1.7"/>
<rect x="148.9" y="476.9" width="4.8" height="4.8" fill="#000" stroke="none" stroke-width="1"/>
<text x="166" y="483.8" font-size="12.5" text-anchor="start" font-weight="normal" fill="#111">PAR4-AP</text>
<text x="38.7" y="530" font-size="14.4" text-anchor="middle" font-weight="normal" fill="#111" transform="rotate(-90 38.7 530)">Fluo3-AM fluorescence</text>
<text x="86.4" y="644" font-size="14.4" text-anchor="middle" font-weight="normal" fill="#111">0</text>
<text x="132" y="644" font-size="14.4" text-anchor="middle" font-weight="normal" fill="#111">1</text>
<text x="178" y="644" font-size="14.4" text-anchor="middle" font-weight="normal" fill="#111">2</text>
<text x="223.8" y="644" font-size="14.4" text-anchor="middle" font-weight="normal" fill="#111">3</text>
<text x="232.9" y="644" font-size="14.4" text-anchor="start" font-weight="normal" fill="#111">(min)</text>
<text x="247" y="432.9" font-size="17.3" text-anchor="start" font-weight="bold" fill="#111">E</text>
<clipPath id="ce1"><rect x="334.8" y="424.1" width="142.8" height="33.9"/></clipPath>
<rect x="334.8" y="424.1" width="142.8" height="33.9" fill="#f1f1f1" stroke="none" stroke-width="1"/>
<g clip-path="url(#ce1)">
<rect x="339.8" y="441.59999999999997" width="31.19999999999999" height="5.2" rx="2.6" fill="#000" opacity="1" filter="url(#b1)"/>
<rect x="342" y="442.7" width="26" height="3" rx="1.5" fill="#000" opacity="1" filter="url(#b1)"/>
<rect x="446" y="439.5" width="28" height="3.6" rx="1.8" fill="#000" opacity="1" filter="url(#b1)"/>
<rect x="448" y="440.3" width="24" height="2.0" rx="1.0" fill="#000" opacity="0.9" filter="url(#b0)"/>
<rect x="414" y="441.7" width="11" height="2" rx="1.0" fill="#ccc" opacity="0.6" filter="url(#b2)"/>
</g>
<rect x="334.8" y="424.1" width="142.8" height="33.9" fill="none" stroke="#1a1a1a" stroke-width="1.4"/>
<clipPath id="ce2"><rect x="336" y="462.5" width="143.6" height="32.4"/></clipPath>
<rect x="336" y="462.5" width="143.6" height="32.4" fill="#f2f2f2" stroke="none" stroke-width="1"/>
<g clip-path="url(#ce2)">
<rect x="339.5" y="480.1" width="29.0" height="3.8" rx="1.9" fill="#000" opacity="1" filter="url(#b1)"/>
<rect x="342" y="481.0" width="24" height="2" rx="1.0" fill="#000" opacity="1" filter="url(#b1)"/>
</g>
<rect x="336" y="462.5" width="143.6" height="32.4" fill="none" stroke="#1a1a1a" stroke-width="1.4"/>
<text x="266.6" y="451.8" font-size="15" text-anchor="start" font-weight="normal" fill="#111">PAR1-AP</text>
<text x="266.6" y="486.4" font-size="15" text-anchor="start" font-weight="normal" fill="#111">PAR4-AP</text>
<text x="352" y="512.1" font-size="14.4" text-anchor="middle" font-weight="normal" fill="#111">0</text>
<text x="386.2" y="512.1" font-size="14.4" text-anchor="middle" font-weight="normal" fill="#111">2</text>
<text x="420.2" y="512.1" font-size="14.4" text-anchor="middle" font-weight="normal" fill="#111">5</text>
<text x="458.4" y="512.1" font-size="14.4" text-anchor="middle" font-weight="normal" fill="#111">20</text>
<text x="479.8" y="512.1" font-size="14.4" text-anchor="start" font-weight="normal" fill="#111">(min)</text>
<rect x="328.3" y="522.5" width="166.3" height="150.89999999999998" fill="none" stroke="#000" stroke-width="1.3"/>
<line x1="328.3" y1="673.4" x2="494.6" y2="673.4" stroke="#111" stroke-width="1.5"/>
<line x1="328.3" y1="673.4" x2="330.8" y2="673.4" stroke="#111" stroke-width="1"/>
<text x="324.3" y="677.85" font-size="10.2" text-anchor="end" font-weight="normal" fill="#111">0</text>
<line x1="328.3" y1="623.1" x2="330.8" y2="623.1" stroke="#111" stroke-width="1"/>
<text x="324.3" y="626.8000000000001" font-size="10.2" text-anchor="end" font-weight="normal" fill="#111">50</text>
<line x1="328.3" y1="572.8" x2="330.8" y2="572.8" stroke="#111" stroke-width="1"/>
<text x="324.3" y="577.85" font-size="10.2" text-anchor="end" font-weight="normal" fill="#111">100</text>
<line x1="328.3" y1="522.5" x2="330.8" y2="522.5" stroke="#111" stroke-width="1"/>
<text x="324.3" y="526.1" font-size="10.2" text-anchor="end" font-weight="normal" fill="#111">150</text>
<polyline points="342.5,573.2 356.2,667.6 376.9,666.9 479.9,659.6" fill="none" stroke="#111" stroke-width="1.5" stroke-dasharray="1.8 3.1"/>
<polyline points="342.5,573.2 356.2,667.2 376.9,664.1 479.9,590.9" fill="none" stroke="#000" stroke-width="1.9" stroke-linejoin="round"/>
<line x1="479.9" y1="563.746" x2="479.9" y2="618.0699999999999" stroke="#333" stroke-width="0.9"/>
<line x1="477.7" y1="563.746" x2="482.09999999999997" y2="563.746" stroke="#333" stroke-width="0.9"/>
<line x1="477.7" y1="618.0699999999999" x2="482.09999999999997" y2="618.0699999999999" stroke="#333" stroke-width="0.9"/>
<line x1="479.9" y1="655.0908" x2="479.9" y2="664.1448" stroke="#333" stroke-width="0.9"/>
<line x1="477.7" y1="655.0908" x2="482.09999999999997" y2="655.0908" stroke="#333" stroke-width="0.9"/>
<line x1="477.7" y1="664.1448" x2="482.09999999999997" y2="664.1448" stroke="#333" stroke-width="0.9"/>
<line x1="376.85" y1="661.328" x2="376.85" y2="669.376" stroke="#333" stroke-width="0.9"/>
<line x1="374.65000000000003" y1="661.328" x2="379.05" y2="661.328" stroke="#333" stroke-width="0.9"/>
<line x1="374.65000000000003" y1="669.376" x2="379.05" y2="669.376" stroke="#333" stroke-width="0.9"/>
<line x1="356.24" y1="664.346" x2="356.24" y2="670.382" stroke="#333" stroke-width="0.9"/>
<line x1="354.04" y1="664.346" x2="358.44" y2="664.346" stroke="#333" stroke-width="0.9"/>
<line x1="354.04" y1="670.382" x2="358.44" y2="670.382" stroke="#333" stroke-width="0.9"/>
<rect x="339.4" y="570.1024" width="6.2" height="6.2" fill="#000" stroke="none" stroke-width="1"/>
<rect x="353.14" y="664.4652" width="6.2" height="6.2" fill="#000" stroke="none" stroke-width="1"/>
<rect x="373.75" y="663.761" width="6.2" height="6.2" fill="#000" stroke="none" stroke-width="1"/>
<rect x="476.79999999999995" y="656.5178" width="6.2" height="6.2" fill="#000" stroke="none" stroke-width="1"/>
<polygon points="338.7,573.2024 342.5,569.4024000000001 346.3,573.2024 342.5,577.0024" fill="#111"/>
<polygon points="352.44,667.1628 356.24,663.3628 360.04,667.1628 356.24,670.9627999999999" fill="#111"/>
<polygon points="373.05,664.1448 376.85,660.3448000000001 380.65000000000003,664.1448 376.85,667.9448" fill="#111"/>
<polygon points="476.09999999999997,590.908 479.9,587.1080000000001 483.7,590.908 479.9,594.708" fill="#111"/>
<rect x="338.1" y="529.9" width="88.8" height="33.3" fill="#fff" stroke="#1a1a1a" stroke-width="1.4"/>
<line x1="344.2" y1="540.3" x2="363.5" y2="540.3" stroke="#000" stroke-width="1.8"/>
<polygon points="350.7,540.3 353.9,537.0999999999999 357.09999999999997,540.3 353.9,543.5" fill="#111"/>
<text x="367.4" y="545" font-size="12.5" text-anchor="start" font-weight="normal" fill="#111">PAR1-AP</text>
<line x1="344.5" y1="554.7" x2="363" y2="554.7" stroke="#222" stroke-width="1.3" stroke-dasharray="1.3 1.7"/>
<rect x="351.5" y="552.3" width="4.8" height="4.8" fill="#000" stroke="none" stroke-width="1"/>
<text x="367.4" y="559.5" font-size="12.5" text-anchor="start" font-weight="normal" fill="#111">PAR4-AP</text>
<text x="298.3" y="596" font-size="14.4" text-anchor="middle" font-weight="normal" fill="#111" transform="rotate(-90 298.3 596)">Intensity change (%)</text>
<text x="343.9" y="699.9" font-size="14.4" text-anchor="middle" font-weight="normal" fill="#111">0</text>
<text x="356.9" y="699.9" font-size="14.4" text-anchor="middle" font-weight="normal" fill="#111">2</text>
<text x="381.0" y="699.9" font-size="14.4" text-anchor="middle" font-weight="normal" fill="#111">5</text>
<text x="475.4" y="699.9" font-size="14.4" text-anchor="middle" font-weight="normal" fill="#111">20</text>
<text x="486.2" y="699.9" font-size="14.4" text-anchor="start" font-weight="normal" fill="#111">(min)</text>
</g>
<g filter="url(#bs)">
<rect x="86.5" y="339.14625" width="15.5" height="26.35374999999999" fill="#fff" stroke="none" stroke-width="1"/>
<path d="M86.50,339.50L86.85,339.15M86.50,342.50L89.85,339.15M86.50,345.50L92.85,339.15M86.50,348.50L95.85,339.15M86.50,351.50L98.85,339.15M86.50,354.50L101.85,339.15M86.50,357.50L102.00,342.00M86.50,360.50L102.00,345.00M86.50,363.50L102.00,348.00M87.50,365.50L102.00,351.00M90.50,365.50L102.00,354.00M93.50,365.50L102.00,357.00M96.50,365.50L102.00,360.00M99.50,365.50L102.00,363.00" stroke="#000" stroke-width="1.0" fill="none"/>
<rect x="86.5" y="339.14625" width="15.5" height="26.35374999999999" fill="none" stroke="#000" stroke-width="1.3"/>
<rect x="128.0" y="289.98435" width="15.0" height="75.51565" fill="#fff" stroke="none" stroke-width="1"/>
<path d="M128.00,292.00L130.02,289.98M128.00,295.00L133.02,289.98M128.00,298.00L136.02,289.98M128.00,301.00L139.02,289.98M128.00,304.00L142.02,289.98M128.00,307.00L143.00,292.00M128.00,310.00L143.00,295.00M128.00,313.00L143.00,298.00M128.00,316.00L143.00,301.00M128.00,319.00L143.00,304.00M128.00,322.00L143.00,307.00M128.00,325.00L143.00,310.00M128.00,328.00L143.00,313.00M128.00,331.00L143.00,316.00M128.00,334.00L143.00,319.00M128.00,337.00L143.00,322.00M128.00,340.00L143.00,325.00M128.00,343.00L143.00,328.00M128.00,346.00L143.00,331.00M128.00,349.00L143.00,334.00M128.00,352.00L143.00,337.00M128.00,355.00L143.00,340.00M128.00,358.00L143.00,343.00M128.00,361.00L143.00,346.00M128.00,364.00L143.00,349.00M129.50,365.50L143.00,352.00M132.50,365.50L143.00,355.00M135.50,365.50L143.00,358.00M138.50,365.50L143.00,361.00M141.50,365.50L143.00,364.00" stroke="#000" stroke-width="1.0" fill="none"/>
<rect x="128.0" y="289.98435" width="15.0" height="75.51565" fill="none" stroke="#000" stroke-width="1.3"/>
<line x1="135.5" y1="298.4735" x2="135.5" y2="281.37025" stroke="#111" stroke-width="1.2"/>
<line x1="133.4" y1="281.37025" x2="137.6" y2="281.37025" stroke="#111" stroke-width="1.2"/>
<line x1="134.3" y1="298.4735" x2="136.7" y2="298.4735" stroke="#111" stroke-width="1.4"/>
<rect x="168.8" y="284.0181" width="15.5" height="81.4819" fill="#fff" stroke="none" stroke-width="1"/>
<path d="M168.80,284.20L168.98,284.02M168.80,287.20L171.98,284.02M168.80,290.20L174.98,284.02M168.80,293.20L177.98,284.02M168.80,296.20L180.98,284.02M168.80,299.20L183.98,284.02M168.80,302.20L184.30,286.70M168.80,305.20L184.30,289.70M168.80,308.20L184.30,292.70M168.80,311.20L184.30,295.70M168.80,314.20L184.30,298.70M168.80,317.20L184.30,301.70M168.80,320.20L184.30,304.70M168.80,323.20L184.30,307.70M168.80,326.20L184.30,310.70M168.80,329.20L184.30,313.70M168.80,332.20L184.30,316.70M168.80,335.20L184.30,319.70M168.80,338.20L184.30,322.70M168.80,341.20L184.30,325.70M168.80,344.20L184.30,328.70M168.80,347.20L184.30,331.70M168.80,350.20L184.30,334.70M168.80,353.20L184.30,337.70M168.80,356.20L184.30,340.70M168.80,359.20L184.30,343.70M168.80,362.20L184.30,346.70M168.80,365.20L184.30,349.70M171.50,365.50L184.30,352.70M174.50,365.50L184.30,355.70M177.50,365.50L184.30,358.70M180.50,365.50L184.30,361.70M183.50,365.50L184.30,364.70" stroke="#000" stroke-width="1.0" fill="none"/>
<rect x="168.8" y="284.0181" width="15.5" height="81.4819" fill="none" stroke="#000" stroke-width="1.3"/>
<line x1="176.55" y1="285.7455" x2="176.55" y2="280.97249999999997" stroke="#111" stroke-width="1.2"/>
<line x1="174.45000000000002" y1="280.97249999999997" x2="178.65" y2="280.97249999999997" stroke="#111" stroke-width="1.2"/>
<line x1="175.35000000000002" y1="285.7455" x2="177.75" y2="285.7455" stroke="#111" stroke-width="1.4"/>
<rect x="210.0" y="289.18885" width="15.5" height="76.31115" fill="#fff" stroke="none" stroke-width="1"/>
<path d="M210.00,291.00L211.81,289.19M210.00,294.00L214.81,289.19M210.00,297.00L217.81,289.19M210.00,300.00L220.81,289.19M210.00,303.00L223.81,289.19M210.00,306.00L225.50,290.50M210.00,309.00L225.50,293.50M210.00,312.00L225.50,296.50M210.00,315.00L225.50,299.50M210.00,318.00L225.50,302.50M210.00,321.00L225.50,305.50M210.00,324.00L225.50,308.50M210.00,327.00L225.50,311.50M210.00,330.00L225.50,314.50M210.00,333.00L225.50,317.50M210.00,336.00L225.50,320.50M210.00,339.00L225.50,323.50M210.00,342.00L225.50,326.50M210.00,345.00L225.50,329.50M210.00,348.00L225.50,332.50M210.00,351.00L225.50,335.50M210.00,354.00L225.50,338.50M210.00,357.00L225.50,341.50M210.00,360.00L225.50,344.50M210.00,363.00L225.50,347.50M210.50,365.50L225.50,350.50M213.50,365.50L225.50,353.50M216.50,365.50L225.50,356.50M219.50,365.50L225.50,359.50M222.50,365.50L225.50,362.50" stroke="#000" stroke-width="1.0" fill="none"/>
<rect x="210.0" y="289.18885" width="15.5" height="76.31115" fill="none" stroke="#000" stroke-width="1.3"/>
<line x1="217.75" y1="290.5185" x2="217.75" y2="286.93875" stroke="#111" stroke-width="1.2"/>
<line x1="215.65" y1="286.93875" x2="219.85" y2="286.93875" stroke="#111" stroke-width="1.2"/>
<line x1="216.55" y1="290.5185" x2="218.95" y2="290.5185" stroke="#111" stroke-width="1.4"/>
<rect x="147.60000000000002" y="236.1" width="7.799999999999983" height="6.400000000000006" fill="#fff" stroke="none" stroke-width="1"/>
<path d="M147.60,236.40L147.90,236.10M147.60,239.40L150.90,236.10M147.60,242.40L153.90,236.10M150.50,242.50L155.40,237.60M153.50,242.50L155.40,240.60" stroke="#000" stroke-width="1.0" fill="none"/>
<rect x="147.60000000000002" y="236.1" width="7.799999999999983" height="6.400000000000006" fill="none" stroke="#000" stroke-width="1.3"/>
<rect x="327.5" y="358.916" width="13.5" height="6.684000000000026" fill="#fff" stroke="none" stroke-width="1"/>
<path d="M327.50,359.50L328.08,358.92M327.50,362.50L331.08,358.92M327.50,365.50L334.08,358.92M330.40,365.60L337.08,358.92M333.40,365.60L340.08,358.92M336.40,365.60L341.00,361.00M339.40,365.60L341.00,364.00" stroke="#000" stroke-width="1.0" fill="none"/>
<rect x="327.5" y="358.916" width="13.5" height="6.684000000000026" fill="none" stroke="#000" stroke-width="1.3"/>
<rect x="368.9" y="317.819" width="14.600000000000023" height="47.781000000000006" fill="#fff" stroke="none" stroke-width="1"/>
<path d="M368.90,318.10L369.18,317.82M368.90,321.10L372.18,317.82M368.90,324.10L375.18,317.82M368.90,327.10L378.18,317.82M368.90,330.10L381.18,317.82M368.90,333.10L383.50,318.50M368.90,336.10L383.50,321.50M368.90,339.10L383.50,324.50M368.90,342.10L383.50,327.50M368.90,345.10L383.50,330.50M368.90,348.10L383.50,333.50M368.90,351.10L383.50,336.50M368.90,354.10L383.50,339.50M368.90,357.10L383.50,342.50M368.90,360.10L383.50,345.50M368.90,363.10L383.50,348.50M369.40,365.60L383.50,351.50M372.40,365.60L383.50,354.50M375.40,365.60L383.50,357.50M378.40,365.60L383.50,360.50M381.40,365.60L383.50,363.50" stroke="#000" stroke-width="1.0" fill="none"/>
<rect x="368.9" y="317.819" width="14.600000000000023" height="47.781000000000006" fill="none" stroke="#000" stroke-width="1.3"/>
<line x1="376.2" y1="318.117" x2="376.2" y2="316.521" stroke="#333" stroke-width="1.0"/>
<line x1="374.09999999999997" y1="316.521" x2="378.3" y2="316.521" stroke="#333" stroke-width="1.0"/>
<line x1="375.0" y1="318.117" x2="377.4" y2="318.117" stroke="#333" stroke-width="1.2"/>
<rect x="408.8" y="254.6972" width="14.399999999999977" height="110.90280000000001" fill="#fff" stroke="none" stroke-width="1"/>
<path d="M408.80,257.20L411.30,254.70M408.80,260.20L414.30,254.70M408.80,263.20L417.30,254.70M408.80,266.20L420.30,254.70M408.80,269.20L423.20,254.80M408.80,272.20L423.20,257.80M408.80,275.20L423.20,260.80M408.80,278.20L423.20,263.80M408.80,281.20L423.20,266.80M408.80,284.20L423.20,269.80M408.80,287.20L423.20,272.80M408.80,290.20L423.20,275.80M408.80,293.20L423.20,278.80M408.80,296.20L423.20,281.80M408.80,299.20L423.20,284.80M408.80,302.20L423.20,287.80M408.80,305.20L423.20,290.80M408.80,308.20L423.20,293.80M408.80,311.20L423.20,296.80M408.80,314.20L423.20,299.80M408.80,317.20L423.20,302.80M408.80,320.20L423.20,305.80M408.80,323.20L423.20,308.80M408.80,326.20L423.20,311.80M408.80,329.20L423.20,314.80M408.80,332.20L423.20,317.80M408.80,335.20L423.20,320.80M408.80,338.20L423.20,323.80M408.80,341.20L423.20,326.80M408.80,344.20L423.20,329.80M408.80,347.20L423.20,332.80M408.80,350.20L423.20,335.80M408.80,353.20L423.20,338.80M408.80,356.20L423.20,341.80M408.80,359.20L423.20,344.80M408.80,362.20L423.20,347.80M408.80,365.20L423.20,350.80M411.40,365.60L423.20,353.80M414.40,365.60L423.20,356.80M417.40,365.60L423.20,359.80M420.40,365.60L423.20,362.80" stroke="#000" stroke-width="1.0" fill="none"/>
<rect x="408.8" y="254.6972" width="14.399999999999977" height="110.90280000000001" fill="none" stroke="#000" stroke-width="1.3"/>
<line x1="416.0" y1="256.272" x2="416.0" y2="251.88299999999998" stroke="#333" stroke-width="1.0"/>
<line x1="413.9" y1="251.88299999999998" x2="418.1" y2="251.88299999999998" stroke="#333" stroke-width="1.0"/>
<line x1="414.8" y1="256.272" x2="417.2" y2="256.272" stroke="#333" stroke-width="1.2"/>
<rect x="449.4" y="232.99159999999998" width="13.900000000000034" height="132.60840000000005" fill="#fff" stroke="none" stroke-width="1"/>
<path d="M449.40,234.60L451.01,232.99M449.40,237.60L454.01,232.99M449.40,240.60L457.01,232.99M449.40,243.60L460.01,232.99M449.40,246.60L463.01,232.99M449.40,249.60L463.30,235.70M449.40,252.60L463.30,238.70M449.40,255.60L463.30,241.70M449.40,258.60L463.30,244.70M449.40,261.60L463.30,247.70M449.40,264.60L463.30,250.70M449.40,267.60L463.30,253.70M449.40,270.60L463.30,256.70M449.40,273.60L463.30,259.70M449.40,276.60L463.30,262.70M449.40,279.60L463.30,265.70M449.40,282.60L463.30,268.70M449.40,285.60L463.30,271.70M449.40,288.60L463.30,274.70M449.40,291.60L463.30,277.70M449.40,294.60L463.30,280.70M449.40,297.60L463.30,283.70M449.40,300.60L463.30,286.70M449.40,303.60L463.30,289.70M449.40,306.60L463.30,292.70M449.40,309.60L463.30,295.70M449.40,312.60L463.30,298.70M449.40,315.60L463.30,301.70M449.40,318.60L463.30,304.70M449.40,321.60L463.30,307.70M449.40,324.60L463.30,310.70M449.40,327.60L463.30,313.70M449.40,330.60L463.30,316.70M449.40,333.60L463.30,319.70M449.40,336.60L463.30,322.70M449.40,339.60L463.30,325.70M449.40,342.60L463.30,328.70M449.40,345.60L463.30,331.70M449.40,348.60L463.30,334.70M449.40,351.60L463.30,337.70M449.40,354.60L463.30,340.70M449.40,357.60L463.30,343.70M449.40,360.60L463.30,346.70M449.40,363.60L463.30,349.70M450.40,365.60L463.30,352.70M453.40,365.60L463.30,355.70M456.40,365.60L463.30,358.70M459.40,365.60L463.30,361.70M462.40,365.60L463.30,364.70" stroke="#000" stroke-width="1.0" fill="none"/>
<rect x="449.4" y="232.99159999999998" width="13.900000000000034" height="132.60840000000005" fill="none" stroke="#000" stroke-width="1.3"/>
<line x1="456.35" y1="236.32199999999997" x2="456.35" y2="227.94299999999998" stroke="#333" stroke-width="1.0"/>
<line x1="454.25" y1="227.94299999999998" x2="458.45000000000005" y2="227.94299999999998" stroke="#333" stroke-width="1.0"/>
<line x1="455.15000000000003" y1="236.32199999999997" x2="457.55" y2="236.32199999999997" stroke="#333" stroke-width="1.2"/>
<rect x="318.90000000000003" y="236.4" width="7.800000000000011" height="6.400000000000006" fill="#fff" stroke="none" stroke-width="1"/>
<path d="M318.90,239.10L321.60,236.40M318.90,242.10L324.60,236.40M321.20,242.80L326.70,237.30M324.20,242.80L326.70,240.30" stroke="#000" stroke-width="1.0" fill="none"/>
<rect x="318.90000000000003" y="236.4" width="7.800000000000011" height="6.400000000000006" fill="none" stroke="#000" stroke-width="1.3"/>
</g>
</svg></body></html>
